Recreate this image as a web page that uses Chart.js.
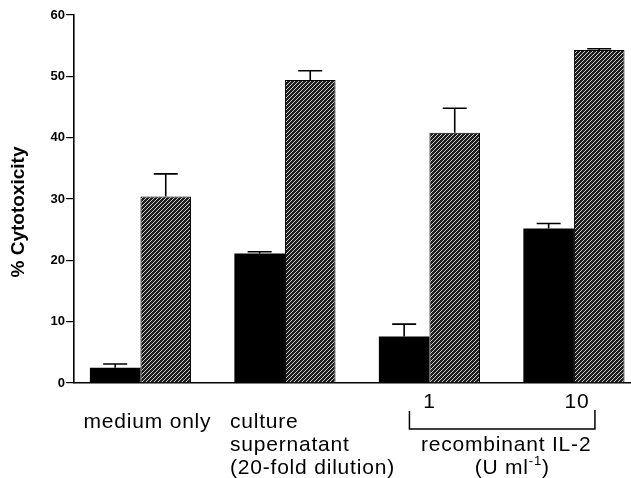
<!DOCTYPE html>
<html>
<head>
<meta charset="utf-8">
<script src="https://cdn.jsdelivr.net/npm/chart.js@4/dist/chart.umd.min.js"></script>
<style>
  html, body { margin: 0; padding: 0; background: #fff; }
  #wrap { width: 631px; height: 478px; position: relative; }
</style>
</head>
<body>
<div id="wrap"><canvas id="c" width="631" height="478"></canvas></div>
<script>
// ---- data ----
const categories = ["medium only", "culture supernatant (20-fold dilution)", "IL-2 1 U/ml", "IL-2 10 U/ml"];
const blackValues = [2.5, 21.1, 7.6, 25.2];
const blackErrors = [0.6, 0.3, 2.0, 0.8];
const hatchedValues = [30.4, 49.4, 40.8, 54.3];
const hatchedErrors = [3.7, 1.5, 4.0, 0.2];
const yTicks = [0, 10, 20, 30, 40, 50, 60];
const yTitle = "% Cytotoxicity";
const groupIndex = categories.map((_, i) => i);

const FONT = '"Liberation Sans", Arial, sans-serif';

// hatch pattern: dark fill with light "/" diagonals
function makeHatch() {
  const n = 4;
  const cv = document.createElement('canvas');
  cv.width = n; cv.height = n;
  const cx = cv.getContext('2d');
  const img = cx.createImageData(n, n);
  for (let y = 0; y < n; y++) {
    for (let x = 0; x < n; x++) {
      const on = (x + y) % n === n - 1;
      const v = on ? 205 : 30;
      const k = (y * n + x) * 4;
      img.data[k] = v; img.data[k + 1] = v; img.data[k + 2] = v; img.data[k + 3] = 255;
    }
  }
  cx.putImageData(img, 0, 0);
  return document.getElementById('c').getContext('2d').createPattern(cv, 'repeat');
}

const errorBarPlugin = {
  id: 'errorBars',
  afterDatasetsDraw(chart) {
    const ctx = chart.ctx;
    const yScale = chart.scales.y;
    ctx.save();
    ctx.strokeStyle = '#000';
    ctx.lineWidth = 1.6;
    chart.data.datasets.forEach((ds, di) => {
      const meta = chart.getDatasetMeta(di);
      meta.data.forEach((el, i) => {
        const v = ds.data[i].y;
        const e = ds.errors[i];
        const yTop = yScale.getPixelForValue(v + e);
        ctx.beginPath();
        ctx.moveTo(el.x, el.y);
        ctx.lineTo(el.x, yTop);
        ctx.moveTo(el.x - 12, yTop);
        ctx.lineTo(el.x + 12, yTop);
        ctx.stroke();
      });
    });
    ctx.restore();
  }
};

const labelPlugin = {
  id: 'catLabels',
  afterDraw(chart) {
    const ctx = chart.ctx;
    const xs = chart.scales.x;
    const ys = chart.scales.y;
    const px = i => xs.getPixelForValue(groupIndex[i]);
    ctx.save();
    // y-axis title
    ctx.save();
    ctx.translate(19, (ys.top + ys.bottom) / 2 + 13);
    ctx.rotate(-Math.PI / 2);
    ctx.font = 'bold 19px ' + FONT;
    ctx.fillStyle = '#000';
    ctx.textAlign = 'center';
    ctx.textBaseline = 'middle';
    ctx.fillText(yTitle, 0, 0);
    ctx.restore();

    ctx.fillStyle = '#000';
    ctx.strokeStyle = '#000';
    const f = '21px ' + FONT;
    ctx.font = f;
    ctx.letterSpacing = '0.8px';
    ctx.textBaseline = 'alphabetic';
    // medium only
    ctx.textAlign = 'center';
    ctx.fillText('medium only', px(0) + 7, 428);
    // culture supernatant
    ctx.textAlign = 'left';
    const lx = px(1) - 55;
    ctx.fillText('culture', lx, 428);
    ctx.fillText('supernatant', lx, 451);
    ctx.fillText('(20-fold dilution)', lx, 474);
    // IL-2 doses
    ctx.textAlign = 'center';
    ctx.fillText('1', px(2), 408);
    ctx.fillText('10', px(3) + 3, 408);
    // bracket
    const bl = px(2) - 20, br = px(3) + 21;
    ctx.lineWidth = 1.5;
    ctx.beginPath();
    ctx.moveTo(bl, 411); ctx.lineTo(bl, 429); ctx.lineTo(br, 429); ctx.lineTo(br, 410);
    ctx.stroke();
    const mid = (bl + br) / 2;
    ctx.fillText('recombinant IL-2', mid + 4, 451);
    // (U ml^-1)
    const p1 = '(U ml', sup = '-1', p2 = ')';
    const fs = '13px ' + FONT;
    ctx.font = f;
    const w1 = ctx.measureText(p1).width;
    const w3 = ctx.measureText(p2).width;
    ctx.font = fs;
    const w2 = ctx.measureText(sup).width;
    const total = w1 + w2 + w3;
    const sx = mid + 10 - total / 2;
    ctx.textAlign = 'left';
    ctx.font = f;
    ctx.fillText(p1, sx, 474);
    ctx.font = fs;
    ctx.fillText(sup, sx + w1, 465);
    ctx.font = f;
    ctx.fillText(p2, sx + w1 + w2, 474);
    ctx.restore();
  }
};

const ctx = document.getElementById('c').getContext('2d');
const hatch = makeHatch();

new Chart(ctx, {
  type: 'bar',
  data: {
    datasets: [
      {
        label: 'black',
        data: groupIndex.map((g, i) => ({ x: g, y: blackValues[i] })),
        errors: blackErrors,
        backgroundColor: '#000',
        borderColor: '#000',
        borderWidth: 0,
        categoryPercentage: 0.7,
        barPercentage: 1.0
      },
      {
        label: 'hatched',
        data: groupIndex.map((g, i) => ({ x: g, y: hatchedValues[i] })),
        errors: hatchedErrors,
        backgroundColor: hatch,
        borderColor: '#000',
        borderWidth: 1,
        categoryPercentage: 0.7,
        barPercentage: 1.0
      }
    ]
  },
  options: {
    responsive: false,
    animation: false,
    devicePixelRatio: 1,
    layout: { padding: { left: 0, right: 0, top: 15, bottom: 95 } },
    plugins: { legend: { display: false }, tooltip: { enabled: false } },
    scales: {
      x: {
        type: 'linear',
        offset: false,
        min: -0.46,
        max: 3.395,
        afterBuildTicks(s) { s.ticks = groupIndex.map(v => ({ value: v })); },
        ticks: { display: false },
        grid: { display: false, drawTicks: false, offset: false },
        border: { display: true, color: '#000', width: 1.6 },
        afterFit(s) { s.height = 0; }
      },
      y: {
        min: 0,
        max: 60,
        afterBuildTicks(s) { s.ticks = yTicks.map(v => ({ value: v })); },
        ticks: {
          color: '#000',
          padding: 1,
          font: { family: FONT, size: 13, weight: 'bold' }
        },
        grid: { drawOnChartArea: false, drawTicks: true, tickLength: 8, color: '#000', lineWidth: 1.2 },
        border: { display: true, color: '#000', width: 1.6 },
        title: { display: false, text: yTitle },
        afterFit(s) { s.width = 74; }
      }
    }
  },
  plugins: [errorBarPlugin, labelPlugin]
});
</script>
</body>
</html>
